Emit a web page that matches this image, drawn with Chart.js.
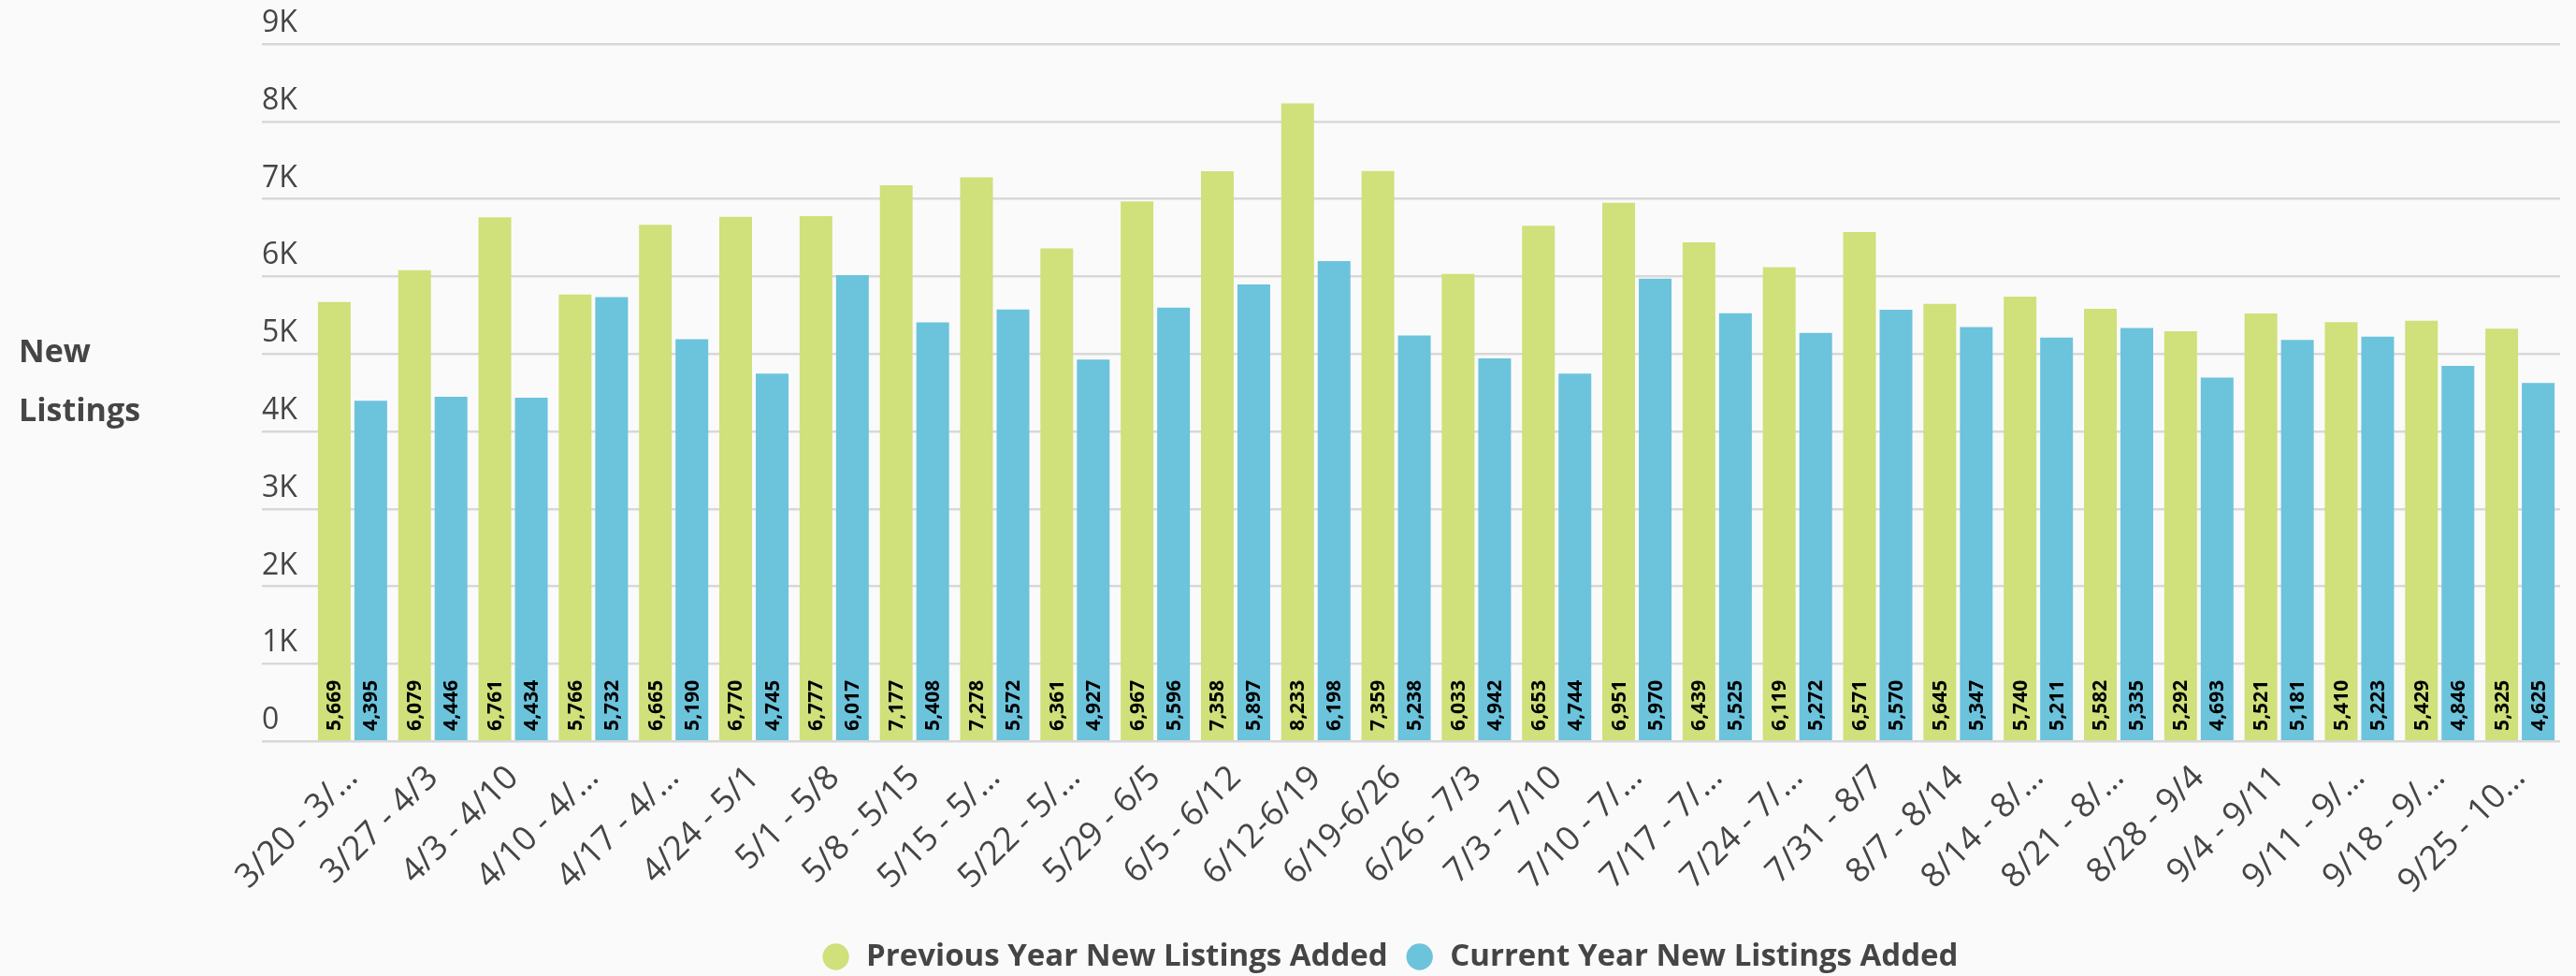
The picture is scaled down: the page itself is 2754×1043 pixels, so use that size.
<!DOCTYPE html>
<html>
<head>
<meta charset="utf-8">
<title>New Listings</title>
<script src="https://cdn.jsdelivr.net/npm/chart.js@4/dist/chart.umd.min.js"></script>
<style>
    html, body { margin: 0; padding: 0; background: #fafafa; }
    #wrap { width: 2754px; height: 1043px; position: relative; }
</style>
</head>
<body>
<div id="wrap"><canvas id="listingsChart"></canvas></div>
<script>
/* ==========================================================
   DATA
========================================================== */
const weeks = [
    "3/20 - 3/…", "3/27 - 4/3", "4/3 - 4/10", "4/10 - 4/…", "4/17 - 4/…",
    "4/24 - 5/1", "5/1 - 5/8", "5/8 - 5/15", "5/15 - 5/…", "5/22 - 5/…",
    "5/29 - 6/5", "6/5 - 6/12", "6/12-6/19", "6/19-6/26", "6/26 - 7/3",
    "7/3 - 7/10", "7/10 - 7/…", "7/17 - 7/…", "7/24 - 7/…", "7/31 - 8/7",
    "8/7 - 8/14", "8/14 - 8/…", "8/21 - 8/…", "8/28 - 9/4", "9/4 - 9/11",
    "9/11 - 9/…", "9/18 - 9/…", "9/25 - 10…"
];

const previousYear = [
    5669, 6079, 6761, 5766, 6665, 6770, 6777, 7177, 7278, 6361,
    6967, 7358, 8233, 7359, 6033, 6653, 6951, 6439, 6119, 6571,
    5645, 5740, 5582, 5292, 5521, 5410, 5429, 5325
];

const currentYear = [
    4395, 4446, 4434, 5732, 5190, 4745, 6017, 5408, 5572, 4927,
    5596, 5897, 6198, 5238, 4942, 4744, 5970, 5525, 5272, 5570,
    5347, 5211, 5335, 4693, 5181, 5223, 4846, 4625
];

const yTicks = [0, 1000, 2000, 3000, 4000, 5000, 6000, 7000, 8000, 9000];

const GREEN = "#d0e07a";
const BLUE = "#6cc3dc";
const TEXT = "#454545";
const GRID = "#d8d8d8";

/* ==========================================================
   PLUGINS — value labels inside bars, side title, legend nudge
========================================================== */
const barValueLabels = {
    id: "barValueLabels",
    afterDatasetsDraw(chart) {
        const ctx = chart.ctx;
        ctx.save();
        ctx.font = 'bold 21px "Open Sans"';
        ctx.fillStyle = "#000";
        ctx.textAlign = "left";
        ctx.textBaseline = "middle";
        chart.data.datasets.forEach((ds, i) => {
            chart.getDatasetMeta(i).data.forEach((bar, j) => {
                ctx.save();
                ctx.translate(bar.x, bar.base - 10);
                ctx.rotate(-Math.PI / 2);
                ctx.fillText(ds.data[j].toLocaleString("en-US"), 0, 1);
                ctx.restore();
            });
        });
        ctx.restore();
    }
};

const sideTitle = {
    id: "sideTitle",
    afterDraw(chart) {
        const ctx = chart.ctx;
        const mid = (chart.chartArea.top + chart.chartArea.bottom) / 2;
        ctx.save();
        ctx.font = 'bold 34px "Open Sans"';
        ctx.fillStyle = TEXT;
        ctx.textAlign = "left";
        ctx.textBaseline = "alphabetic";
        ctx.fillText("New", 20, mid - 33);
        ctx.fillText("Listings", 20, mid + 30);
        ctx.restore();
    }
};

// legend sits a little left of the plot centre in the original
const legendNudge = {
    id: "legendNudge",
    afterLayout(chart) {
        if (!chart.legend) return;
        chart.legend.left -= 23;
        chart.legend.right -= 23;
    }
};

/* ==========================================================
   CHART
========================================================== */
const ctx = document.getElementById("listingsChart").getContext("2d");

new Chart(ctx, {
    type: "bar",
    data: {
        labels: weeks,
        datasets: [
            {
                label: "Previous Year New Listings Added",
                data: previousYear,
                backgroundColor: GREEN,
                barPercentage: 0.897,
                categoryPercentage: 0.909
            },
            {
                label: "Current Year New Listings Added",
                data: currentYear,
                backgroundColor: BLUE,
                barPercentage: 0.897,
                categoryPercentage: 0.909
            }
        ]
    },
    plugins: [barValueLabels, sideTitle, legendNudge],
    options: {
        responsive: true,
        maintainAspectRatio: false,
        animation: false,
        layout: { padding: { left: 280, right: 17, top: 47, bottom: -6 } },
        plugins: {
            tooltip: { enabled: false },
            legend: {
                position: "bottom",
                labels: {
                    usePointStyle: true,
                    pointStyle: "circle",
                    boxWidth: 32,
                    boxHeight: 20,
                    padding: 18,
                    color: TEXT,
                    font: { family: "Open Sans", size: 33, weight: "bold" }
                }
            }
        },
        scales: {
            x: {
                afterFit: (axis) => { axis.height += 14; },
                grid: { display: false },
                border: { display: false },
                ticks: {
                    autoSkip: false,
                    minRotation: 45,
                    maxRotation: 45,
                    padding: 10,
                    color: TEXT,
                    font: { family: "Open Sans", size: 36 }
                }
            },
            y: {
                min: 0,
                max: 9000,
                afterBuildTicks: (axis) => {
                    axis.ticks = yTicks.map(v => ({ value: v }));
                },
                afterFit: (axis) => { axis.width = 54; },
                grid: {
                    color: GRID,
                    lineWidth: 2.5,
                    tickLength: 54,
                    tickColor: GRID
                },
                border: { display: false },
                ticks: {
                    crossAlign: "far",
                    labelOffset: -22,
                    padding: 0,
                    color: TEXT,
                    font: { family: "Open Sans", size: 32 },
                    callback: (v) => v === 0 ? "0" : (v / 1000) + "K"
                }
            }
        }
    }
});
</script>
</body>
</html>
